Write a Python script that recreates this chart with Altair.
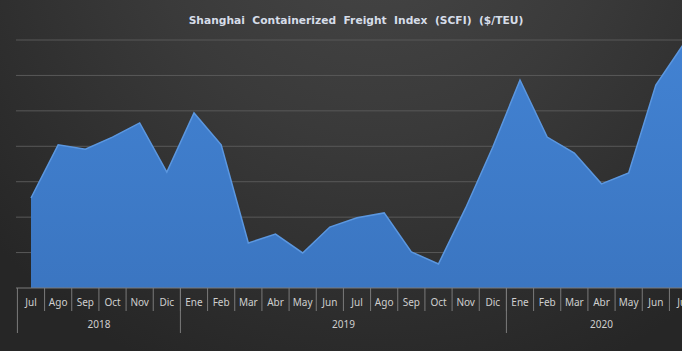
import altair as alt
import pandas as pd

months = ["Jul", "Ago", "Sep", "Oct", "Nov", "Dic",
          "Ene", "Feb", "Mar", "Abr", "May", "Jun", "Jul", "Ago", "Sep", "Oct", "Nov", "Dic",
          "Ene", "Feb", "Mar", "Abr", "May", "Jun", "Jul"]
scfi = [854, 1004, 992, 1026, 1066, 927,
        1094, 1004, 727, 752, 699, 772, 798, 812, 702, 668, 826, 998,
        1187, 1026, 981, 894, 925, 1173, 1286]
years = ["2018", "2019", "2020"]
year_centers = [2.5, 11.5, 21.0]
month_bounds = [i + 0.5 for i in range(24)]
year_bounds = [-0.5, 5.5, 17.5]
y_ticks = list(range(600, 1301, 100))

W, H = 666, 248
NB = "\u00a0"
title_text = (NB * 2).join(["Shanghai", "Containerized", "Freight", "Index", "(SCFI)", "($/TEU)"])

df = pd.DataFrame({"idx": list(range(len(months))), "month": months, "value": scfi})
ydf = pd.DataFrame({"idx": year_centers, "year": years})
mb = pd.DataFrame({"b": month_bounds})
yb = pd.DataFrame({"b": year_bounds})
gdf = pd.DataFrame({"v": y_ticks[1:]})

xsc = alt.Scale(domain=[-0.552, 23.963], nice=False, zero=False)
ysc = alt.Scale(domain=[600, 1300], nice=False, zero=False)

bg = alt.Chart(pd.DataFrame({"a": [0]})).mark_rect(
    color=alt.Gradient(
        gradient="radial",
        stops=[alt.GradientStop(color="#474747", offset=0),
               alt.GradientStop(color="#3a3a3a", offset=0.45),
               alt.GradientStop(color="#262626", offset=1)],
        x1=0.55, y1=0.1, x2=0.55, y2=0.1, r1=0, r2=0.75,
    )
).encode(x=alt.value(-16), x2=alt.value(W), y=alt.value(-40), y2=alt.value(H + 63))

grid = alt.Chart(gdf).mark_rule(color="#595959", strokeWidth=1).encode(
    y=alt.Y("v:Q", scale=ysc, axis=alt.Axis(
        values=y_ticks, grid=False, domain=False, ticks=False, labelColor="#d9d9d9",
        labelFontSize=11, labelFont="Noto Sans", labelPadding=11, title=None, format="d")),
    x=alt.value(0), x2=alt.value(W + 20)
)

area = alt.Chart(df).mark_area(
    clip=True,
    color=alt.Gradient(
        gradient="linear",
        stops=[alt.GradientStop(color="#4282d2", offset=0),
               alt.GradientStop(color="#3a74bf", offset=0.6),
               alt.GradientStop(color="#3163a6", offset=1)],
        x1=0, x2=0, y1=0, y2=1,
    ),
).encode(
    x=alt.X("idx:Q", scale=xsc, axis=None),
    y=alt.Y("value:Q", scale=ysc),
)

edge = alt.Chart(df).mark_line(clip=True, color="#5b97e0", strokeWidth=1.5).encode(
    x=alt.X("idx:Q", scale=xsc), y=alt.Y("value:Q", scale=ysc)
)

baseline = alt.Chart(pd.DataFrame({"v": [600]})).mark_rule(color="#7a7a7a", strokeWidth=1).encode(
    y=alt.Y("v:Q", scale=ysc), x=alt.value(0), x2=alt.value(W)
)

msep = alt.Chart(mb).mark_rule(color="#7a7a7a", strokeWidth=1).encode(
    x=alt.X("b:Q", scale=xsc), y=alt.value(H), y2=alt.value(H + 23)
)
ysep = alt.Chart(yb).mark_rule(color="#7a7a7a", strokeWidth=1).encode(
    x=alt.X("b:Q", scale=xsc), y=alt.value(H), y2=alt.value(H + 45)
)

mtext = alt.Chart(df).mark_text(
    color="#cfcfcf", fontSize=10, font="Noto Sans", baseline="middle", align="center"
).encode(x=alt.X("idx:Q", scale=xsc), y=alt.value(H + 15), text="month:N")

ytext = alt.Chart(ydf).mark_text(
    color="#cfcfcf", fontSize=10, font="Noto Sans", baseline="middle", align="center"
).encode(x=alt.X("idx:Q", scale=xsc), y=alt.value(H + 37), text="year:N")

title = alt.Chart(pd.DataFrame({"t": [title_text]})).mark_text(
    color="#d6dde8", fontSize=10.7, font="DejaVu Sans", fontWeight="bold", baseline="middle", align="center"
).encode(x=alt.value(340), y=alt.value(-19), text="t:N")

chart = alt.layer(bg, grid, area, edge, baseline, msep, ysep, mtext, ytext, title).properties(
    width=W, height=H,
    autosize=alt.AutoSizeParams(type="none"),
    padding={"left": 16, "top": 40, "right": 0, "bottom": 63},
    background="#2e2e2e",
).configure_view(stroke=None)

chart.save("out.html", embed_options={"renderer": "svg", "actions": False})
